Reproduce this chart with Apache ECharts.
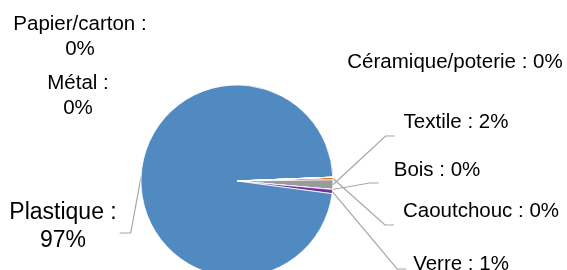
<!DOCTYPE html>
<html>
<head>
<meta charset="utf-8">
<script src="https://cdn.jsdelivr.net/npm/echarts@6/dist/echarts.min.js"></script>
<style>
  html, body { margin: 0; padding: 0; background: #fff; }
  #app { width: 567px; height: 270px; }
</style>
</head>
<body>
<div id="app"></div>
<script>
// slice order is clockwise from just above 3 o'clock
const names = ['Caoutchouc', 'Textile', 'Bois', 'Verre', 'Plastique', 'Céramique/poterie', 'Métal', 'Papier/carton'];
const values = [0.45, 1.6, 0, 0.7, 97.25, 0, 0, 0];
const colors = ['#e46c0a', '#9a9a9a', '#a5a5a5', '#7030a0', '#508ac0', '#c0504d', '#9bbb59', '#4bacc6'];

// labels that put the percent on a second line
const wrapped = ['Plastique', 'Métal', 'Papier/carton'];
// labels drawn without a leader line
const noLine = ['Céramique/poterie', 'Métal', 'Papier/carton'];

// where Excel had put each label (centre), dy = leader line height below it
const spots = {
  'Papier/carton': { x: 80, y: 37 },
  'Métal': { x: 78, y: 96 },
  'Céramique/poterie': { x: 455, y: 62 },
  'Textile': { x: 456, y: 122, dy: 14, gap: 9 },
  'Bois': { x: 437, y: 170, dy: 13, gap: 15 },
  'Caoutchouc': { x: 481, y: 211, dy: 14, gap: 9 },
  'Verre': { x: 461, y: 264, dy: 5, gap: 7 },
  'Plastique': { x: 63, y: 227, dy: 6, gap: 3 },
};

const data = names.map((name, i) => {
  const item = { name, value: values[i], itemStyle: { color: colors[i] } };
  if (noLine.includes(name)) {
    item.labelLine = { show: false };
  }
  if (name === 'Plastique') {
    item.label = { fontSize: 23, lineHeight: 28 };
  }
  return item;
});

const eChart = echarts.init(document.getElementById('app'));

const option = {
  backgroundColor: '#fff',
  animation: false,
  series: [
    {
      type: 'pie',
      center: [237, 181],
      radius: 96,
      startAngle: 2.3,
      clockwise: true,
      avoidLabelOverlap: false,
      data: data,
      itemStyle: {
        borderColor: '#fff',
        borderWidth: 0.8,
      },
      label: {
        show: true,
        position: 'outside',
        color: '#000',
        fontFamily: 'Liberation Sans, Arial, sans-serif',
        fontSize: 20.5,
        lineHeight: 25,
        formatter: function (p) {
          const sep = wrapped.includes(p.name) ? '\n' : ' ';
          return p.name + ' :' + sep + Math.round(p.percent) + '%';
        },
      },
      labelLine: {
        show: true,
        length: 20,
        length2: 10,
        lineStyle: {
          color: '#a6a6a6',
          width: 1.2,
        },
      },
      labelLayout: function (params) {
        const name = names[params.dataIndex];
        const s = spots[name];
        const w = params.labelRect.width;
        const h = params.labelRect.height;
        const out = { x: s.x, y: s.y, align: 'center', verticalAlign: 'middle' };
        const pts = params.labelLinePoints;
        if (pts && s.dy != null) {
          const start = pts[0];
          const ly = s.y + s.dy;
          if (s.x > 237) {
            const end = s.x - w / 2 - s.gap;
            out.labelLinePoints = [start, [end - 9, ly], [end, ly]];
          } else {
            const end = s.x + w / 2 + s.gap;
            out.labelLinePoints = [start, [end + 11, ly], [end, ly]];
          }
        }
        return out;
      },
    },
  ],
};
eChart.setOption(option);
</script>
</body>
</html>
